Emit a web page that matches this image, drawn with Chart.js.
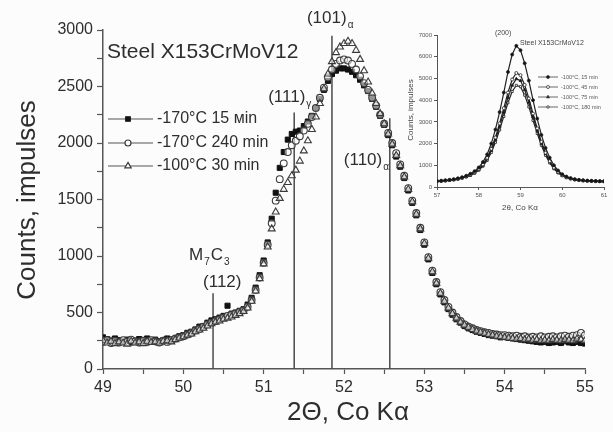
<!DOCTYPE html>
<html>
<head>
<meta charset="utf-8">
<script src="https://cdn.jsdelivr.net/npm/chart.js@4.4.0/dist/chart.umd.min.js"></script>
<style>
  html, body { margin: 0; padding: 0; background: #fcfcfc; }
  #wrap { position: relative; width: 613px; height: 432px; }
  #main { position: absolute; left: 0; top: 0; }
  #inset { position: absolute; left: 400px; top: 20px; }
</style>
</head>
<body>
<div id="wrap">
  <canvas id="main" width="613" height="432"></canvas>
  <canvas id="inset" width="213" height="200"></canvas>
</div>
<script>
// 2-theta positions (deg)
const twoTheta = [
  49.00, 49.05, 49.10, 49.15, 49.20, 49.25, 49.30, 49.35, 49.40, 49.45,
  49.50, 49.55, 49.60, 49.65, 49.70, 49.75, 49.80, 49.85, 49.90, 49.95,
  50.00, 50.05, 50.10, 50.15, 50.20, 50.25, 50.30, 50.35, 50.40, 50.45,
  50.50, 50.55, 50.60, 50.65, 50.70, 50.75, 50.80, 50.85, 50.90, 50.95,
  51.00, 51.05, 51.10, 51.15, 51.20, 51.25, 51.30, 51.35, 51.40, 51.45,
  51.50, 51.55, 51.60, 51.65, 51.70, 51.75, 51.80, 51.85, 51.90, 51.95,
  52.00, 52.05, 52.10, 52.15, 52.20, 52.25, 52.30, 52.35, 52.40, 52.45,
  52.50, 52.55, 52.60, 52.65, 52.70, 52.75, 52.80, 52.85, 52.90, 52.95,
  53.00, 53.05, 53.10, 53.15, 53.20, 53.25, 53.30, 53.35, 53.40, 53.45,
  53.50, 53.55, 53.60, 53.65, 53.70, 53.75, 53.80, 53.85, 53.90, 53.95,
  54.00, 54.05, 54.10, 54.15, 54.20, 54.25, 54.30, 54.35, 54.40, 54.45,
  54.50, 54.55, 54.60, 54.65, 54.70, 54.75, 54.80, 54.85, 54.90, 54.95,
  55.00
];

// -170°C 15 min (filled squares)
const counts170_15 = [
  280, 265, 250, 270, 255, 240, 260, 235, 250, 265,
  255, 270, 250, 260, 245, 255, 270, 260, 265, 290,
  300, 320, 330, 350, 375, 380, 410, 430, 440, 455,
  470, 560, 490, 500, 515, 530, 570, 630, 720, 830,
  960, 1120, 1330, 1560, 1780, 1920, 2030, 2080, 2100, 2110,
  2150, 2190, 2240, 2310, 2390, 2470, 2550, 2610, 2640, 2660,
  2660, 2650, 2630, 2600, 2560, 2510, 2460, 2390, 2320, 2240,
  2160, 2070, 1980, 1880, 1790, 1690, 1580, 1470, 1360, 1230,
  1100, 970, 850, 750, 660, 590, 530, 480, 440, 410,
  380, 360, 345, 330, 320, 310, 300, 295, 290, 280,
  285, 275, 270, 265, 260, 255, 250, 245, 240, 235,
  240, 230, 235, 240, 230, 245, 235, 230, 240, 230,
  225
];

// -170°C 240 min (open circles)
const counts170_240 = [
  240, 255, 230, 250, 235, 255, 240, 260, 245, 235,
  250, 240, 255, 245, 235, 250, 240, 255, 270, 280,
  290, 305, 320, 340, 355, 375, 395, 410, 425, 440,
  455, 470, 480, 490, 505, 520, 550, 610, 700, 810,
  940, 1100, 1290, 1490, 1680, 1820, 1920, 1980, 2020, 2060,
  2110, 2170, 2230, 2310, 2400, 2490, 2580, 2650, 2700, 2730,
  2740, 2730, 2700, 2650, 2590, 2530, 2470, 2400, 2330, 2250,
  2170, 2090, 2000, 1910, 1810, 1710, 1600, 1490, 1380, 1250,
  1120, 990, 870, 770, 680, 610, 550, 500, 460, 425,
  395, 375, 360, 345, 335, 325, 320, 310, 305, 300,
  300, 295, 290, 295, 285, 290, 280, 285, 280, 290,
  280, 285, 290, 280, 290, 295, 285, 295, 300, 320,
  300
];

// -100°C 30 min (open triangles)
const counts100_30 = [
  250, 230, 245, 225, 240, 230, 220, 245, 230, 240,
  225, 245, 235, 240, 230, 245, 250, 240, 260, 275,
  285, 300, 310, 330, 345, 360, 380, 400, 415, 425,
  440, 450, 460, 475, 490, 510, 540, 600, 690, 800,
  930, 1080, 1240, 1390, 1510, 1590, 1650, 1710, 1760, 1840,
  1930, 2020, 2120, 2230, 2350, 2480, 2610, 2720, 2800, 2850,
  2880, 2900, 2880, 2820, 2740, 2640, 2540, 2440, 2350, 2260,
  2170, 2080, 1990, 1890, 1800, 1700, 1590, 1480, 1370, 1240,
  1110, 980, 860, 760, 670, 600, 540, 490, 450, 415,
  390, 370, 350, 335, 325, 315, 305, 300, 290, 285,
  280, 275, 270, 265, 270, 260, 265, 255, 260, 250,
  255, 250, 260, 255, 250, 260, 255, 250, 265, 260,
  250
];

const seriesNames = ["-170°C 15 мin", "-170°C 240 min", "-100°C 30 min"];

// reflection markers
const refPos = [50.37, 51.38, 51.85, 52.57];
const refTop = [670, 2270, 2950, 2220];

// inset data: (200) peak
const insetTheta = [
  57.0, 57.1, 57.2, 57.3, 57.4, 57.5, 57.6, 57.7, 57.8, 57.9,
  58.0, 58.1, 58.2, 58.3, 58.4, 58.5, 58.6, 58.7, 58.8, 58.9,
  59.0, 59.1, 59.2, 59.3, 59.4, 59.5, 59.6, 59.7, 59.8, 59.9,
  60.0, 60.1, 60.2, 60.3, 60.4, 60.5, 60.6, 60.7, 60.8, 60.9,
  61.0
];
const inset15 = [
  280, 290, 310, 330, 360, 400, 450, 520, 610, 730,
  900, 1150, 1500, 2000, 2650, 3450, 4350, 5300, 6100, 6500,
  6300, 5700, 4900, 4000, 3150, 2400, 1800, 1350, 1000, 760,
  590, 480, 410, 360, 330, 310, 295, 285, 275, 270,
  265
];
const inset45 = [
  270, 280, 300, 320, 345, 380, 430, 490, 570, 680,
  830, 1040, 1340, 1760, 2280, 2930, 3630, 4350, 4950, 5250,
  5150, 4700, 4080, 3380, 2700, 2080, 1580, 1190, 890, 690,
  540, 450, 390, 345, 320, 300, 285, 275, 268, 262,
  258
];
const inset75 = [
  265, 275, 290, 310, 335, 370, 415, 475, 550, 655,
  800, 1000, 1280, 1680, 2180, 2790, 3450, 4120, 4680, 4980,
  4900, 4480, 3900, 3240, 2600, 2010, 1530, 1150, 870, 670,
  530, 440, 380, 340, 315, 295, 282, 272, 265, 260,
  255
];
const inset180 = [
  260, 270, 285, 305, 330, 360, 405, 460, 530, 630,
  770, 960, 1220, 1590, 2060, 2630, 3250, 3880, 4400, 4680,
  4620, 4230, 3690, 3070, 2470, 1920, 1460, 1110, 840, 650,
  520, 430, 375, 335, 310, 292, 280, 270, 263, 258,
  252
];
const insetNames = ["-100°C, 15 min", "-100°C, 45 min", "-100°C, 75 min", "-100°C, 180 min"];

const FONT = '"Liberation Sans", Arial, sans-serif';
const AXIS = "#555";
const TEXT = "#2e2e2e";

function toPoints(xs, ys) {
  return ys.map((y, i) => ({ x: xs[i], y: y }));
}

// main series styles
const mainSets = [
  { label: seriesNames[2], data: toPoints(twoTheta, counts100_30), pointStyle: "triangle",
    pointRadius: 4, borderColor: "#3a3a3a", backgroundColor: "rgba(255,255,255,0.55)", pointBorderWidth: 1.1 },
  { label: seriesNames[1], data: toPoints(twoTheta, counts170_240), pointStyle: "circle",
    pointRadius: 3.4, borderColor: "#3a3a3a", backgroundColor: "rgba(255,255,255,0.55)", pointBorderWidth: 1.1 },
  { label: seriesNames[0], data: toPoints(twoTheta, counts170_15), pointStyle: "rect",
    pointRadius: 3.6, borderColor: "#111", backgroundColor: "#111", pointBorderWidth: 1 }
];

const lineSets = refPos.map((p, i) => ({
  label: "ref" + i,
  data: [{ x: p, y: 0 }, { x: p, y: refTop[i] }],
  showLine: true,
  borderColor: "#4a4a4a",
  borderWidth: 1.5,
  pointRadius: 0
}));

function drawSub(ctx, main, sub, x, y, size) {
  ctx.font = size + "px " + FONT;
  ctx.fillText(main, x, y);
  const w = ctx.measureText(main).width;
  ctx.font = Math.round(size * 0.6) + "px " + FONT;
  ctx.fillText(sub, x + w + 1, y + size * 0.4);
  return x + w + 1 + ctx.measureText(sub).width;
}

const mainText = {
  id: "mainText",
  afterDraw(chart) {
    const { ctx } = chart;
    const xs = chart.scales.x;
    ctx.save();
    ctx.fillStyle = TEXT;
    ctx.textBaseline = "middle";
    ctx.textAlign = "left";
    ctx.font = "21px " + FONT;
    ctx.fillText("Steel X153CrMoV12", 107, 52);

    // axis titles
    ctx.font = "26px " + FONT;
    ctx.textAlign = "center";
    ctx.fillText("2Θ, Co Kα", 348, 413);
    ctx.save();
    ctx.translate(28, 200);
    ctx.rotate(-Math.PI / 2);
    ctx.fillText("Counts, impulses", 0, 0);
    ctx.restore();

    // legend
    ctx.textAlign = "left";
    const rows = [119, 143, 166];
    [2, 1, 0].forEach((di, r) => {
      const ds = chart.data.datasets[di];
      const y = rows[r];
      ctx.strokeStyle = "#555";
      ctx.lineWidth = 1.2;
      ctx.beginPath();
      ctx.moveTo(108, y);
      ctx.lineTo(153, y);
      ctx.stroke();
      ctx.fillStyle = di === 2 ? "#111" : "#fcfcfc";
      ctx.strokeStyle = ds.borderColor;
      Chart.helpers.drawPoint(ctx, { pointStyle: ds.pointStyle, radius: ds.pointRadius - 0.4, rotation: 0, borderWidth: 1 }, 128, y);
      ctx.fillStyle = TEXT;
      ctx.font = "16px " + FONT;
      ctx.fillText(ds.label, 157, y);
    });

    // reflection labels
    ctx.fillStyle = TEXT;
    const px = refPos.map(p => xs.getPixelForValue(p));
    let x0 = px[0] - 24;
    x0 = drawSub(ctx, "M", "7", x0, 255, 17);
    drawSub(ctx, "C", "3", x0 + 1, 255, 17);
    ctx.font = "17px " + FONT;
    ctx.fillText("(112)", px[0] - 10, 282);
    drawSub(ctx, "(111)", "γ", px[1] - 26, 97, 17);
    drawSub(ctx, "(101)", "α", px[2] - 25, 18, 17);
    drawSub(ctx, "(110)", "α", px[3] - 46, 160, 17);
    ctx.restore();
  }
};

new Chart(document.getElementById("main"), {
  type: "scatter",
  data: { datasets: [...mainSets, ...lineSets] },
  options: {
    responsive: false,
    animation: false,
    layout: { padding: { left: 0, top: 30, right: 28, bottom: 0 } },
    plugins: { legend: { display: false }, tooltip: { enabled: false } },
    scales: {
      x: {
        type: "linear",
        min: 49,
        max: 55,
        afterFit: s => { s.height = 63; },
        border: { color: AXIS, width: 1.5 },
        grid: { drawOnChartArea: false, color: AXIS, tickLength: 5, tickWidth: 1.2 },
        ticks: {
          stepSize: 0.5, autoSkip: false, maxRotation: 0, padding: 4, color: TEXT,
          font: { size: 16, family: FONT },
          callback: v => (Number.isInteger(v) ? v : "")
        }
      },
      y: {
        min: 0,
        max: 3000,
        afterFit: s => { s.width = 103; },
        border: { color: AXIS, width: 1.5 },
        grid: { drawOnChartArea: false, color: AXIS, tickLength: 6, tickWidth: 1.2 },
        ticks: {
          stepSize: 250, autoSkip: false, padding: 4, color: TEXT,
          font: { size: 16, family: FONT },
          callback: v => (v % 500 === 0 ? v : "")
        }
      }
    }
  },
  plugins: [mainText]
});

// inset chart
const insetStyles = [
  { data: inset15, style: "circle", r: 1.5, fill: "#111" },
  { data: inset45, style: "circle", r: 1.5, fill: "#fff" },
  { data: inset75, style: "triangle", r: 1.7, fill: "#111" },
  { data: inset180, style: "rect", r: 1.5, fill: "#fff" }
];

const insetText = {
  id: "insetText",
  afterDraw(chart) {
    const { ctx } = chart;
    ctx.save();
    ctx.fillStyle = "#444";
    ctx.textBaseline = "middle";
    ctx.textAlign = "center";
    ctx.font = "8px " + FONT;
    ctx.fillText("2θ, Co Kα", 120, 188);
    ctx.save();
    ctx.translate(11, 90);
    ctx.rotate(-Math.PI / 2);
    ctx.fillText("Counts, impulses", 0, 0);
    ctx.restore();
    ctx.textAlign = "left";
    ctx.font = "7px " + FONT;
    ctx.fillText("Steel X153CrMoV12", 120, 23);
    ctx.fillText("(200)", 95, 13);
    const rows = [57, 67, 77, 87];
    chart.data.datasets.forEach((ds, i) => {
      const y = rows[i];
      ctx.strokeStyle = "#444";
      ctx.lineWidth = 0.8;
      ctx.beginPath();
      ctx.moveTo(138, y);
      ctx.lineTo(158, y);
      ctx.stroke();
      ctx.fillStyle = ds.backgroundColor;
      ctx.strokeStyle = "#333";
      Chart.helpers.drawPoint(ctx, { pointStyle: ds.pointStyle, radius: ds.pointRadius, rotation: 0, borderWidth: 0.8 }, 148, y);
      ctx.fillStyle = "#555";
      ctx.font = "5.5px " + FONT;
      ctx.fillText(ds.label, 161, y);
    });
    ctx.restore();
  }
};

new Chart(document.getElementById("inset"), {
  type: "scatter",
  data: {
    datasets: insetStyles.map((s, i) => ({
      label: insetNames[i],
      data: toPoints(insetTheta, s.data),
      showLine: true,
      borderColor: "#222",
      borderWidth: 1.2,
      pointStyle: s.style,
      pointRadius: s.r,
      pointBorderWidth: 0.8,
      backgroundColor: s.fill
    }))
  },
  options: {
    responsive: false,
    animation: false,
    layout: { padding: { left: 0, top: 15, right: 9, bottom: 0 } },
    plugins: { legend: { display: false }, tooltip: { enabled: false } },
    scales: {
      x: {
        type: "linear",
        min: 57,
        max: 61,
        afterFit: s => { s.height = 33; },
        border: { color: AXIS, width: 1 },
        grid: { drawOnChartArea: false, color: AXIS, tickLength: 3 },
        ticks: { stepSize: 1, padding: 2, color: "#555", font: { size: 6, family: FONT }, callback: v => v }
      },
      y: {
        min: 0,
        max: 7000,
        afterFit: s => { s.width = 37; },
        border: { color: AXIS, width: 1 },
        grid: { drawOnChartArea: false, color: AXIS, tickLength: 3 },
        ticks: { stepSize: 1000, padding: 2, color: "#555", font: { size: 6, family: FONT }, callback: v => v }
      }
    }
  },
  plugins: [insetText]
});
</script>
</body>
</html>
